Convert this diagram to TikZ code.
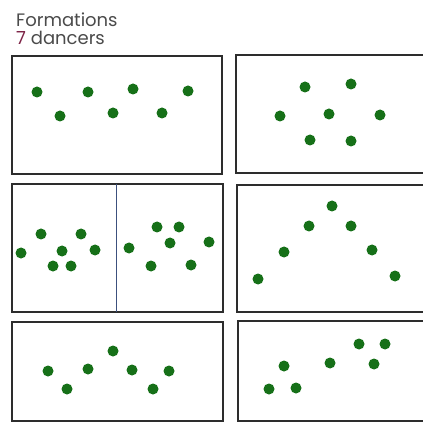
\documentclass[tikz,border=0pt]{standalone}
\usepackage{fontspec}
\setmainfont{Poppins}
\definecolor{dancer}{RGB}{22,112,24}
\definecolor{frameline}{RGB}{45,45,45}
\definecolor{titlegray}{RGB}{75,75,75}
\definecolor{countred}{RGB}{125,35,70}
\definecolor{divider}{RGB}{60,80,125}
\tikzset{
  dancer/.style={circle,fill=dancer,inner sep=0pt,minimum size=11pt},
  stage/.style={draw=frameline,line width=1.4pt},
  title/.style={anchor=base west,inner sep=0pt,text=titlegray,font=\fontsize{18}{20}\selectfont}
}
\begin{document}
\begin{tikzpicture}[x=1pt,y=-1pt]
\useasboundingbox (0,0) rectangle (423,422);
\clip (0,0) rectangle (423,422);
\fill[white] (0,0) rectangle (423,422);

% heading
\node[title] (t1) at (16,27) {Formations};
\node[title] (t2) at (16,45) {\textcolor{countred}{7} dancers};

% stages
\draw[stage] (12,56) rectangle (222,174);
\draw[stage] (236,55) rectangle (430,173);
\draw[stage] (12,184) rectangle (223,312);
\draw[divider,line width=1pt] (116,184) -- (116,312);
\draw[stage] (237,185) rectangle (430,312);
\draw[stage] (12,322) rectangle (223,421);
\draw[stage] (238,321) rectangle (430,421);

% line
\foreach \x/\y [count=\i] in {37/92,60/116,88/92,113/113,133/89,162/113,188/91}
  \node[dancer] (a\i) at (\x,\y) {};
% cluster
\foreach \x/\y [count=\i] in {305/87,351/84,280/116,329/114,380/115,310/140,351/141}
  \node[dancer] (b\i) at (\x,\y) {};
% split groups
\foreach \x/\y [count=\i] in {21/253,41/234,62/251,81/234,95/250,53/266,71/266}
  \node[dancer] (c\i) at (\x,\y) {};
\foreach \x/\y [count=\i] in {129/248,157/227,179/227,170/243,209/242,151/266,191/265}
  \node[dancer] (e\i) at (\x,\y) {};
% wedge
\foreach \x/\y [count=\i] in {258/279,284/252,309/226,332/206,351/226,372/250,395/276}
  \node[dancer] (f\i) at (\x,\y) {};
% zigzag
\foreach \x/\y [count=\i] in {48/371,67/389,88/369,113/351,132/370,153/389,169/371}
  \node[dancer] (g\i) at (\x,\y) {};
% diagonal
\foreach \x/\y [count=\i] in {269/389,284/366,296/388,330/363,359/344,385/344,374/364}
  \node[dancer] (h\i) at (\x,\y) {};
\end{tikzpicture}
\end{document}
